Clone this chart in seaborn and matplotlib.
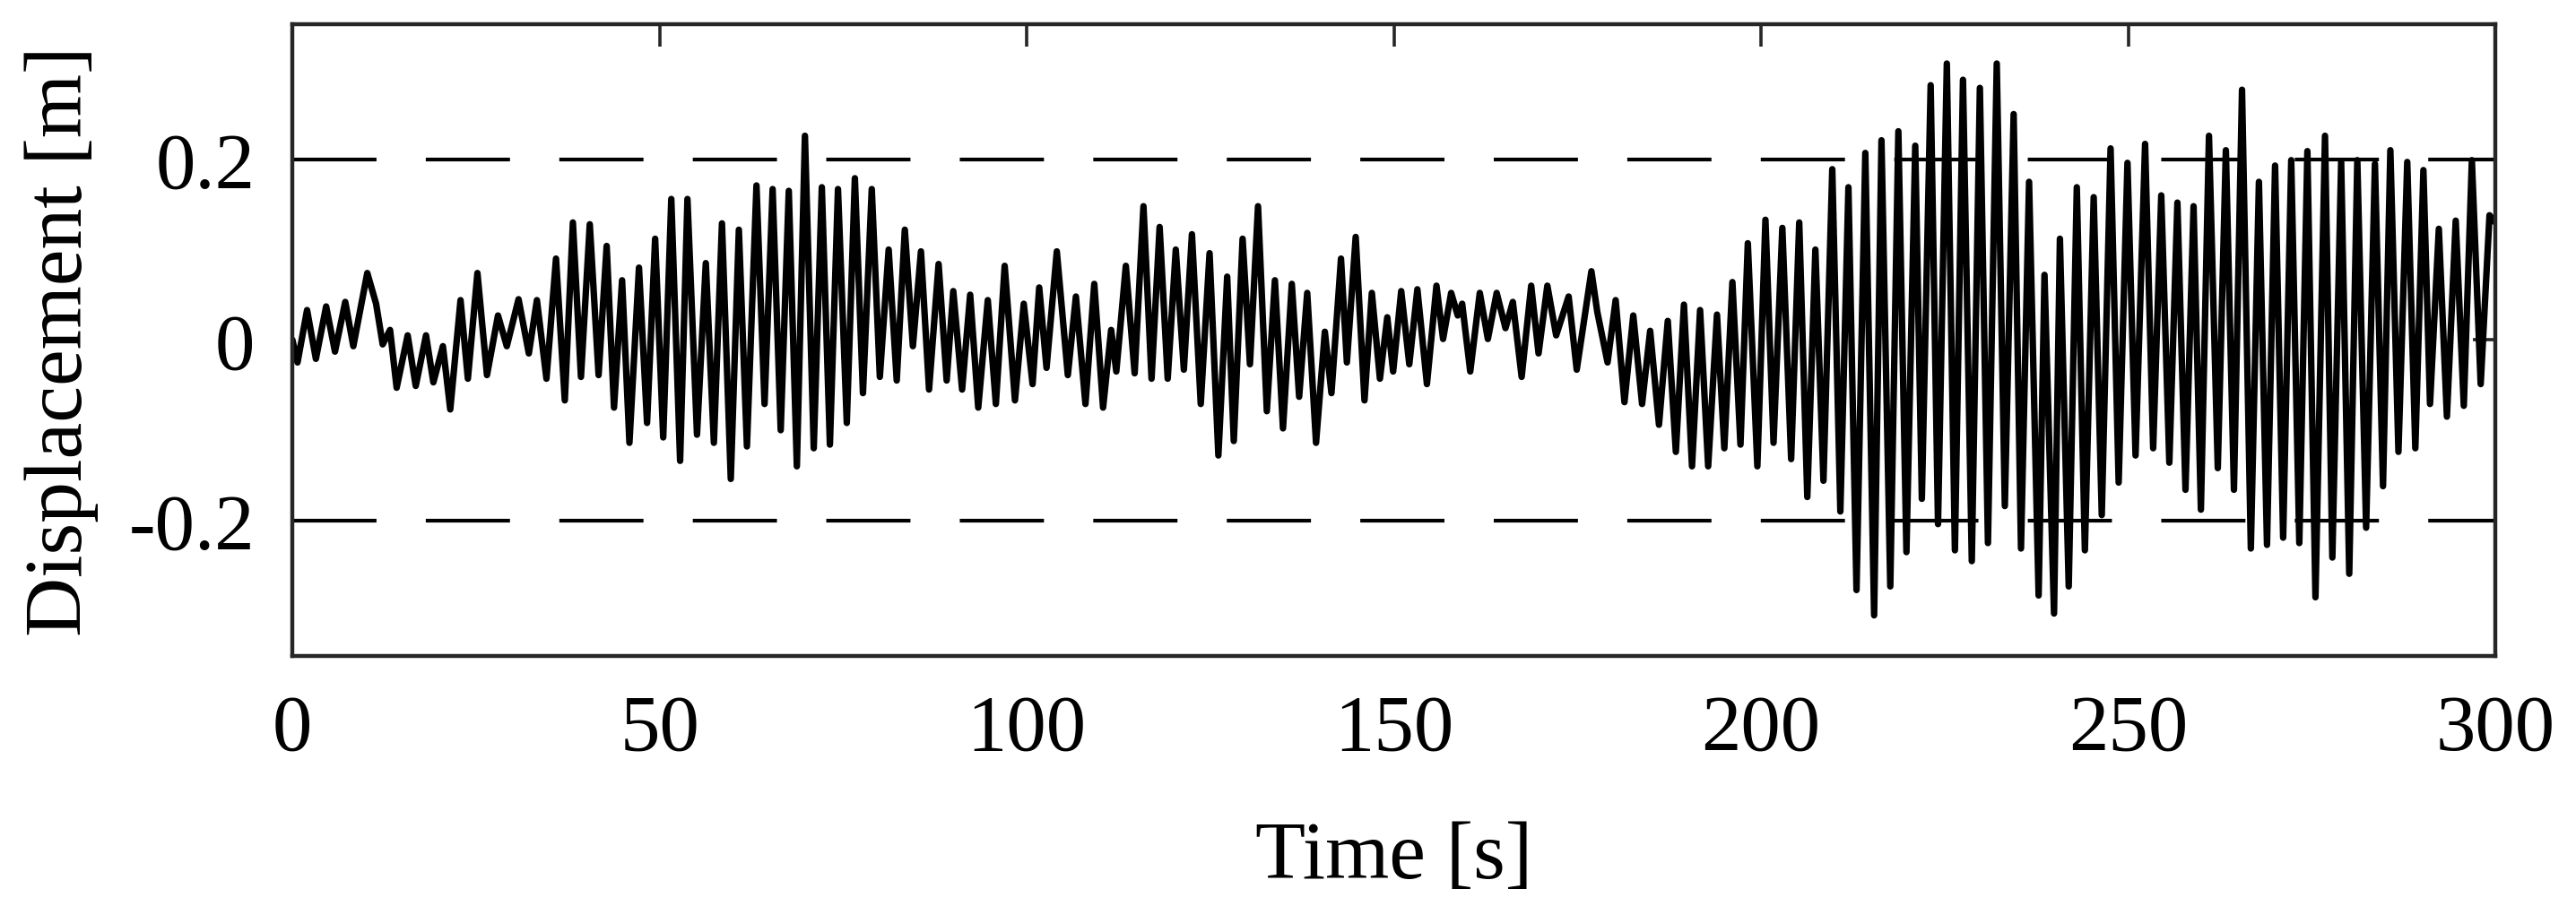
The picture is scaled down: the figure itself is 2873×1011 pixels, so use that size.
import matplotlib
matplotlib.use("Agg")
import matplotlib.pyplot as plt
import seaborn as sns

# peaks and troughs, in time order
time_s = [
    0.0, 0.7, 2.0, 3.2, 4.6, 5.8, 7.2, 8.3, 10.2, 11.4, 12.3, 13.3, 14.2, 15.7, 16.8,
    18.2, 19.2, 20.5, 21.5, 22.9, 23.9, 25.2, 26.5, 28.0, 29.2, 30.8,
    32.2, 33.3, 34.6, 35.9, 37.1, 38.2, 39.3, 40.5, 41.7, 42.8, 43.8, 44.9, 45.9,
    47.2, 48.3, 49.4, 50.5, 51.6, 52.8, 53.8, 55.1, 56.3, 57.4, 58.5, 59.7,
    60.8, 61.9, 63.2, 64.3, 65.4, 66.5, 67.6, 68.7, 69.8, 71.0, 72.1, 73.2, 74.3,
    75.5, 76.6, 77.7, 78.9, 80.0, 81.2, 82.3, 83.4, 84.5, 85.6, 86.7, 88.0, 89.1, 90.0,
    91.2, 92.3, 93.4, 94.7, 95.8, 97.0, 98.4, 99.6, 100.8, 101.7, 102.7, 104.1, 105.6,
    106.7, 108.0, 109.2, 110.4, 111.5, 112.2, 113.5, 114.7, 115.9, 117.0, 118.1, 119.2, 120.3,
    121.4, 122.5, 123.7, 124.9, 126.1, 127.3, 128.2, 129.4, 130.4, 131.5, 132.7, 133.8,
    134.9, 136.1, 137.1, 138.2, 139.4, 140.6, 141.5, 142.8, 143.6, 144.8, 146.0, 147.0,
    148.1, 149.1, 149.9,
    151.0, 152.1, 153.2, 154.5, 155.8, 156.7, 157.8, 158.7, 159.3, 160.4, 161.7, 162.8,
    164.0, 165.2, 166.2, 167.4, 168.7, 169.7, 170.9, 172.1, 173.8, 174.9, 176.9, 177.7,
    179.1, 180.2,
    181.4, 182.6, 183.8, 184.9, 186.1, 187.3, 188.4, 189.5, 190.6, 191.7, 192.8, 194.0,
    195.0, 196.1, 197.2, 198.2, 199.5, 200.6, 201.7, 202.9, 204.1, 205.2, 206.3, 207.4,
    208.5, 209.7,
    210.8, 211.9, 213.0, 214.2, 215.4, 216.4, 217.6, 218.7, 219.8, 221.0, 221.9, 223.1,
    224.1, 225.3, 226.4, 227.5, 228.7, 229.8, 230.9, 232.1, 233.2, 234.4, 235.4, 236.5,
    237.8, 238.6, 239.9,
    240.7, 241.9, 243.0, 244.1, 245.3, 246.4, 247.6, 248.7, 249.9, 251.0, 252.3, 253.4,
    254.5, 255.6, 256.7, 257.8, 258.9, 259.9, 261.0, 262.2, 263.3, 264.4, 265.5, 266.7,
    267.8, 268.9, 270.0,
    271.1, 272.2, 273.3, 274.4, 275.5, 276.8, 277.8, 279.0, 280.1, 281.2, 282.4, 283.6,
    284.7, 285.7, 286.8, 288.0, 289.1, 290.2, 291.1, 292.3, 293.4, 294.6, 295.7, 296.8,
    298.0, 299.2, 300.0,
]
disp_m = [
    0.0, -0.025, 0.033, -0.021, 0.037, -0.013, 0.042, -0.007, 0.074, 0.04, -0.005, 0.011, -0.053, 0.005, -0.051,
    0.005, -0.047, -0.007, -0.077, 0.044, -0.043, 0.074, -0.039, 0.027, -0.007, 0.045,
    -0.015, 0.044, -0.043, 0.09, -0.067, 0.13, -0.041, 0.128, -0.039, 0.104, -0.075, 0.066, -0.114,
    0.08, -0.092, 0.112, -0.108, 0.156, -0.134, 0.156, -0.105, 0.085, -0.114, 0.129, -0.154,
    0.122, -0.118, 0.171, -0.071, 0.167, -0.1, 0.165, -0.14, 0.226, -0.12, 0.169, -0.116, 0.167,
    -0.092, 0.179, -0.059, 0.167, -0.041, 0.1, -0.045, 0.122, -0.007, 0.098, -0.055, 0.084, -0.045, 0.054,
    -0.055, 0.05, -0.075, 0.044, -0.071, 0.082, -0.067, 0.04, -0.049, 0.058, -0.031, 0.098, -0.039,
    0.048, -0.071, 0.062, -0.075, 0.011, -0.035, 0.082, -0.037, 0.148, -0.043, 0.125, -0.043, 0.1,
    -0.033, 0.117, -0.071, 0.096, -0.128, 0.07, -0.112, 0.112, -0.027, 0.148, -0.079, 0.066,
    -0.098, 0.062, -0.063, 0.052, -0.114, 0.009, -0.059, 0.09, -0.025, 0.114, -0.067, 0.052,
    -0.043, 0.025, -0.035,
    0.054, -0.027, 0.056, -0.049, 0.06, 0.001, 0.052, 0.027, 0.04, -0.035, 0.052, 0.001,
    0.052, 0.013, 0.042, -0.041, 0.06, -0.015, 0.06, 0.005, 0.048, -0.033, 0.076, 0.031,
    -0.025, 0.044,
    -0.069, 0.027, -0.071, 0.01, -0.094, 0.021, -0.124, 0.039, -0.14, 0.033, -0.14, 0.028,
    -0.12, 0.064, -0.116, 0.107, -0.14, 0.133, -0.114, 0.124, -0.132, 0.13, -0.174, 0.1,
    -0.156, 0.189,
    -0.19, 0.169, -0.277, 0.207, -0.305, 0.221, -0.273, 0.231, -0.235, 0.215, -0.176, 0.282,
    -0.204, 0.306, -0.233, 0.288, -0.245, 0.279, -0.225, 0.306, -0.184, 0.25, -0.231, 0.175,
    -0.283, 0.072, -0.303,
    0.112, -0.273, 0.169, -0.233, 0.158, -0.194, 0.212, -0.158, 0.196, -0.128, 0.217, -0.12,
    0.16, -0.136, 0.152, -0.166, 0.148, -0.188, 0.226, -0.142, 0.21, -0.166, 0.277, -0.231,
    0.175, -0.227, 0.193,
    -0.219, 0.199, -0.225, 0.209, -0.285, 0.226, -0.241, 0.197, -0.259, 0.199, -0.208, 0.195,
    -0.162, 0.21, -0.124, 0.197, -0.12, 0.188, -0.071, 0.123, -0.085, 0.132, -0.073, 0.199,
    -0.049, 0.138, 0.13,
]

limit_lines = [0.2, -0.2]
x_ticks = [0, 50, 100, 150, 200, 250, 300]
y_ticks = [-0.2, 0, 0.2]
y_tick_labels = ["-0.2", "0", "0.2"]

sns.set_theme(style="white")
plt.rcParams['font.family'] = ['Liberation Serif', 'DejaVu Serif']
plt.rcParams['axes.unicode_minus'] = False
plt.rcParams['lines.scale_dashes'] = False

fig = plt.figure(figsize=(14.365, 5.06), dpi=200)
ax = fig.add_axes([0.1135, 0.2757, 0.8552, 0.6971])

sns.lineplot(x=time_s, y=disp_m, ax=ax, color='black', linewidth=2.6,
             estimator=None, sort=False)

# dashes 94 px on, 55 px off at 200 dpi
for lim in limit_lines:
    ax.axhline(lim, color='black', linewidth=1.5, linestyle=(0, (33.8, 19.8)))

ax.set_xlim(0, 300)
ax.set_ylim(-0.35, 0.35)
ax.set_xticks(x_ticks)
ax.set_yticks(y_ticks)
ax.set_yticklabels(y_tick_labels)

ax.set_xlabel('Time [s]', fontsize=33, color='black', labelpad=22)
ax.set_ylabel('Displacement [m]', fontsize=33, color='black', labelpad=12)

ax.tick_params(axis='both', direction='in', length=9, width=1.3, colors='#262626',
               labelcolor='black', labelsize=32, top=True, right=True, pad=15)
for side in ax.spines.values():
    side.set_visible(True)
    side.set_color('#262626')
    side.set_linewidth(1.6)

fig.savefig("out.png", dpi=200)
